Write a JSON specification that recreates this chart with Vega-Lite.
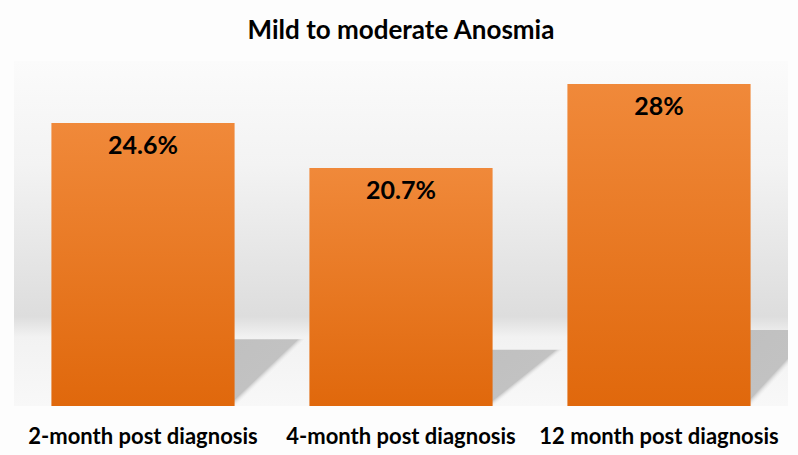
{
  "$schema": "https://vega.github.io/schema/vega-lite/v6.json",
  "autosize": {"type": "none"},
  "width": 774,
  "height": 345,
  "padding": {"left": 14, "top": 61, "right": 10, "bottom": 49},
  "background": "#fdfdfd",
  "title": {
    "text": "Mild to moderate Anosmia",
    "font": "Lato",
    "fontSize": 26,
    "fontWeight": "bold",
    "color": "#000000",
    "anchor": "middle",
    "baseline": "alphabetic",
    "offset": -4
  },
  "config": {
    "view": {
      "stroke": null,
      "fill": {
        "gradient": "linear",
        "x1": 0, "y1": 0, "x2": 0, "y2": 1,
        "stops": [
          {"offset": 0, "color": "#fbfbfb"},
          {"offset": 0.3, "color": "#f3f3f3"},
          {"offset": 0.74, "color": "#dddddd"},
          {"offset": 0.8, "color": "#f2f2f2"},
          {"offset": 1, "color": "#f8f8f8"}
        ]
      }
    },
    "axis": {"grid": false, "domain": false, "ticks": false}
  },
  "data": {
    "values": [
      {"period": "2-month post diagnosis", "value": 24.6, "label": "24.6%"},
      {"period": "4-month post diagnosis", "value": 20.7, "label": "20.7%"},
      {"period": "12 month post diagnosis", "value": 28, "label": "28%"}
    ]
  },
  "encoding": {
    "x": {
      "field": "period",
      "type": "nominal",
      "sort": null,
      "scale": {"paddingInner": 0.29, "paddingOuter": 0.145},
      "axis": {
        "title": null,
        "labelAngle": 0,
        "labelFont": "Lato",
        "labelFontSize": 22,
        "labelFontWeight": "bold",
        "labelColor": "#000000",
        "labelBaseline": "alphabetic",
        "labelPadding": 37,
        "labelLimit": 0
      }
    }
  },
  "layer": [
    {
      "mark": {
        "type": "bar",
        "xOffset": 70,
        "clip": true,
        "color": {
          "gradient": "linear",
          "x1": 0, "y1": 0, "x2": 1, "y2": 0.383,
          "stops": [
            {"offset": 0, "color": "#bdbdbd"},
            {"offset": 0.84, "color": "#c2c2c2"},
            {"offset": 0.885, "color": "rgba(255,255,255,0)"},
            {"offset": 1, "color": "rgba(255,255,255,0)"}
          ]
        }
      },
      "encoding": {
        "y": {
          "field": "value",
          "type": "quantitative",
          "scale": {"domain": [0, 127]},
          "axis": null
        }
      }
    },
    {
      "encoding": {
        "y": {
          "field": "value",
          "type": "quantitative",
          "scale": {"domain": [0, 30]},
          "axis": null
        }
      },
      "layer": [
        {
          "mark": {
            "type": "bar",
            "color": {
              "gradient": "linear",
              "x1": 0, "y1": 0, "x2": 0, "y2": 1,
              "stops": [
                {"offset": 0, "color": "#F0893A"},
                {"offset": 1, "color": "#E0680C"}
              ]
            }
          }
        },
        {
          "mark": {
            "type": "text",
            "baseline": "alphabetic",
            "dy": 31,
            "font": "Lato",
            "fontSize": 25,
            "fontWeight": "bold",
            "color": "#000000"
          },
          "encoding": {"text": {"field": "label"}}
        }
      ]
    }
  ],
  "resolve": {"scale": {"y": "independent"}}
}
